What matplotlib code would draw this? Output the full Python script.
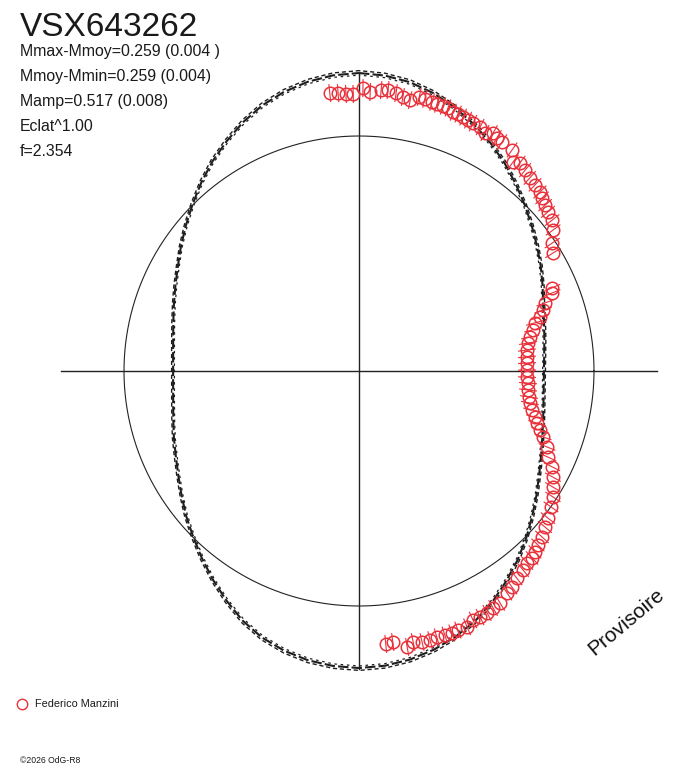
import numpy as np
import matplotlib
matplotlib.use("Agg")
import matplotlib.pyplot as plt

plt.rcParams['font.family'] = ['Liberation Sans', 'DejaVu Sans']

# ---------------- data ----------------
title = "VSX643262"
info_lines = ["Mmax-Mmoy=0.259 (0.004 )", "Mmoy-Mmin=0.259 (0.004)",
              "Mamp=0.517 (0.008)", "Eclat^1.00", "f=2.354"]
observer = "Federico Manzini"
copyright_txt = "©2026 OdG-R8"
watermark = "Provisoire"

# model curve: phase angle (deg, clockwise from top) and radius (ref circle = 1)
model_phase_deg = list(range(0, 360, 5))
model_r = [1.268, 1.262, 1.248, 1.224, 1.193, 1.158, 1.120, 1.080, 1.038, 0.998,
           0.960, 0.925, 0.893, 0.862, 0.834, 0.815, 0.801, 0.791, 0.787, 0.789,
           0.797, 0.811, 0.830, 0.855, 0.885, 0.922, 0.962, 1.006, 1.050, 1.092,
           1.135, 1.172, 1.203, 1.228, 1.247, 1.259, 1.264, 1.260, 1.250, 1.232,
           1.207, 1.172, 1.128, 1.084, 1.040, 0.998, 0.960, 0.922, 0.888, 0.860,
           0.838, 0.818, 0.803, 0.794, 0.791, 0.794, 0.803, 0.818, 0.838, 0.862,
           0.890, 0.925, 0.962, 1.002, 1.045, 1.088, 1.128, 1.168, 1.203, 1.230,
           1.250, 1.263]

# observations: phase angle (deg) and radius
obs_phase_deg = [354.0, 355.7, 357.3, 358.8, 0.8, 2.3, 4.5, 5.9, 7.6, 9.1,
                 10.7, 12.4, 13.6, 15.2, 16.3, 17.6, 18.7, 20.0, 21.1, 22.3,
                 23.5, 24.7, 26.4, 27.9, 29.4, 30.6, 32.0, 34.7, 36.4, 37.7,
                 39.6, 41.5, 43.4, 45.3, 46.6, 48.3, 49.9, 52.0, 54.0, 56.5,
                 58.7, 66.7, 68.0, 69.9, 71.7, 73.4, 74.7, 76.7, 78.8, 80.6,
                 82.9, 85.2, 87.3, 89.7, 92.1, 94.1, 96.4, 98.7, 100.6, 102.7,
                 104.7, 106.3, 108.1, 109.7, 112.0, 114.5, 116.4, 118.7, 120.9, 123.0,
                 125.3, 127.9, 130.0, 132.2, 134.2, 135.8, 137.2, 138.8, 140.5, 142.7,
                 144.7, 146.3, 148.7, 150.5, 152.1, 153.8, 155.4, 157.1, 159.1, 160.5,
                 162.0, 163.7, 165.2, 166.9, 168.7, 170.1, 172.9, 174.4]
obs_r = [1.189, 1.186, 1.180, 1.179, 1.204, 1.188, 1.199, 1.202, 1.193, 1.181,
         1.173, 1.194, 1.191, 1.186, 1.184, 1.183, 1.182, 1.172, 1.172, 1.168,
         1.164, 1.161, 1.159, 1.146, 1.162, 1.152, 1.149, 1.144, 1.105, 1.119,
         1.109, 1.097, 1.090, 1.083, 1.072, 1.061, 1.051, 1.043, 1.021, 0.986,
         0.966, 0.894, 0.886, 0.843, 0.825, 0.804, 0.776, 0.761, 0.742, 0.729,
         0.720, 0.717, 0.716, 0.715, 0.715, 0.721, 0.724, 0.732, 0.740, 0.755,
         0.774, 0.789, 0.810, 0.832, 0.863, 0.884, 0.917, 0.941, 0.962, 0.984,
         1.001, 1.019, 1.033, 1.051, 1.062, 1.074, 1.084, 1.086, 1.097, 1.108,
         1.126, 1.135, 1.155, 1.159, 1.165, 1.167, 1.165, 1.182, 1.180, 1.183,
         1.182, 1.180, 1.184, 1.184, 1.176, 1.192, 1.162, 1.167]
obs_err = 0.036

ref_radius = 1.0
axis_extent = 1.27

# ---------------- plotting ----------------
W, H = 688, 768
S = 235.0          # pixels per unit
cx, cy = 359.0, 371.0

fig = plt.figure(figsize=(W / 100, H / 100), dpi=100)
ax = fig.add_axes([0, 0, 1, 1])
ax.set_xlim(-cx / S, (W - cx) / S)
ax.set_ylim(-(H - cy) / S, cy / S)
ax.axis('off')

def to_xy(phase_deg, r):
    t = np.deg2rad(np.asarray(phase_deg, float))
    r = np.asarray(r, float)
    return r * np.sin(t), r * np.cos(t)

# reference circle
tt = np.linspace(0, 2 * np.pi, 400)
ax.plot(ref_radius * np.cos(tt), ref_radius * np.sin(tt), color='#222222', lw=0.8)
# axes
ax.plot([-axis_extent, axis_extent], [0, 0], color='#222222', lw=1.0)
ax.plot([0, 0], [-axis_extent, axis_extent], color='#222222', lw=1.0)

# model curve (closed), drawn as overlapping dashed strokes
mp = list(model_phase_deg) + [model_phase_deg[0]]
mr = list(model_r) + [model_r[0]]
mx, my = to_xy(mp, mr)
ax.plot(mx, my, color='#1e1e1e', lw=1.5, ls=(0, (5, 1.5)))
ax.plot(mx * 1.008, my * 1.008, color='#1e1e1e', lw=1.0, ls=(2, (3, 2)))
ax.plot(mx * 0.993, my * 0.993, color='#1e1e1e', lw=0.9, ls=(1, (2, 3)))

# observations with radial error bars
red = '#e8313b'
ox, oy = to_xy(obs_phase_deg, obs_r)
ex1, ey1 = to_xy(obs_phase_deg, np.array(obs_r) - obs_err)
ex2, ey2 = to_xy(obs_phase_deg, np.array(obs_r) + obs_err)
for a, b, c, d in zip(ex1, ey1, ex2, ey2):
    ax.plot([a, c], [b, d], color=red, lw=0.8)
ax.plot(ox, oy, ls='none', marker='o', ms=9, mfc='none', mec=red, mew=1.1)

# texts
fig.text(20 / W, 1 - 36 / H, title, fontsize=24, color='#1a1a1a', ha='left', va='baseline')
for i, s in enumerate(info_lines):
    fig.text(20 / W, 1 - (56 + 25 * i) / H, s, fontsize=11.4, color='#1a1a1a',
             ha='left', va='baseline')

# legend
fig.lines.append(matplotlib.lines.Line2D([22 / W], [1 - 704 / H], marker='o', ms=7.5,
                                         mfc='none', mec=red, mew=1.0,
                                         transform=fig.transFigure))
fig.text(35 / W, 1 - 704 / H, observer, fontsize=7.8, color='#1a1a1a', ha='left',
         va='center')
fig.text(20 / W, 1 - 763 / H, copyright_txt, fontsize=6.2, color='#1a1a1a', ha='left',
         va='baseline')
fig.text(626 / W, 1 - 622 / H, watermark, fontsize=15, color='#111111', rotation=40,
         ha='center', va='center', rotation_mode='anchor')

fig.savefig('out.png', dpi=100)
